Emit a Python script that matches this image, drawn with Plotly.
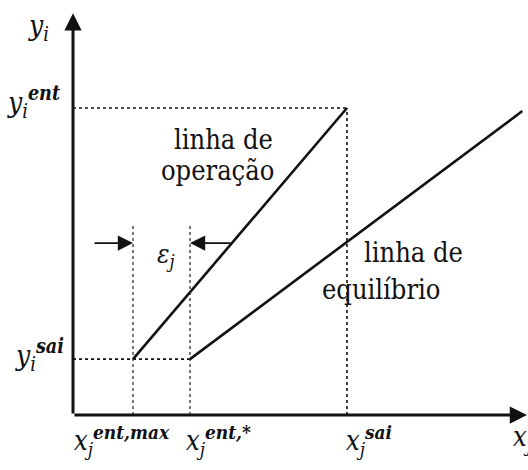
import plotly.graph_objects as go

# Compositions on the diagram (normalised so that x_sai = 1 and y_ent = 1)
x_ent_max = 0.219
x_ent_star = 0.427
x_sai = 1.0
y_sai = 0.182
y_ent = 1.0

# Operating line: from (x_ent_max, y_sai) to (x_sai, y_ent)
op_x = [x_ent_max, x_sai]
op_y = [y_sai, y_ent]

# Equilibrium line: starts at (x_ent_star, y_sai)
eq_x = [x_ent_star, 1.64]
eq_y = [y_sai, 0.99]

# Axis extents and the ε gap marker
x_axis_end = 1.657
y_axis_end = 1.309
guide_top = 0.625
eps_y = 0.560
eps_tail_left = 0.073
eps_tail_right = 0.580

SERIF = "DejaVu Serif Condensed, DejaVu Serif"
INK = "#111111"

fig = go.Figure()


def seg(xs, ys, width, dash="solid", color=INK):
    fig.add_trace(go.Scatter(x=xs, y=ys, mode="lines", hoverinfo="skip",
                             line=dict(color=color, width=width, dash=dash),
                             showlegend=False))


# dotted guide lines
seg([0, x_sai], [y_ent, y_ent], 1.6, "dot")
seg([x_sai, x_sai], [0, y_ent], 1.6, "dot")
seg([0, x_ent_star], [y_sai, y_sai], 1.6, "dot")
seg([x_ent_max, x_ent_max], [0, guide_top], 1.3, "dot", "#333333")
seg([x_ent_star, x_ent_star], [0, guide_top], 1.3, "dot", "#333333")

# operating and equilibrium lines
seg(op_x, op_y, 2.6)
seg(eq_x, eq_y, 2.6)

annotations = []


def arrow(x0, y0, x1, y1, width, size):
    annotations.append(dict(x=x1, y=y1, ax=x0, ay=y0, xref="x", yref="y",
                            axref="x", ayref="y", text="", showarrow=True,
                            arrowhead=2, arrowwidth=width, arrowsize=size,
                            arrowcolor=INK, standoff=0))


# axes
arrow(0, 0, x_axis_end, 0, 3, 1.15)
arrow(0, 0, 0, y_axis_end, 3, 1.15)
# ε gap arrows
arrow(eps_tail_left, eps_y, x_ent_max, eps_y, 1.6, 1.9)
arrow(eps_tail_right, eps_y, x_ent_star, eps_y, 1.6, 1.9)


def label(text, x, y, size=26, xanchor="center", yanchor="middle",
          xshift=0, yshift=0):
    annotations.append(dict(text=text, x=x, y=y, xref="x", yref="y",
                            showarrow=False, xanchor=xanchor, yanchor=yanchor,
                            xshift=xshift, yshift=yshift,
                            font=dict(family=SERIF, size=size, color=INK)))


# line captions
label("linha de", 0.551, 0.899, 27)
label("operação", 0.529, 0.795, 27)
label("linha de", 1.241, 0.528, 27)
label("equilíbrio", 1.124, 0.410, 27)
label("<i>ε<sub>j</sub></i>", 0.339, 0.518, 26)

# y-axis labels
label("<i>y<sub>i</sub></i>", 0, y_axis_end, 28, "right", "middle",
      -22, -14)
label("<i>y<sub>i</sub><sup><b>ent</b></sup></i>", 0, y_ent, 28,
      "right", "middle", -11, 6)
label("<i>y<sub>i</sub><sup><b>sai</b></sup></i>", 0, y_sai, 28,
      "right", "middle", -7, 4)

# x-axis labels
label("<i>x<sub>j</sub><sup><b>ent,max</b></sup></i>", x_ent_max, 0,
      27, "left", "top", -61, -4)
label("<i>x<sub>j</sub><sup><b>ent,*</b></sup></i>", x_ent_star, 0,
      27, "left", "top", -6, -4)
label("<i>x<sub>j</sub><sup><b>sai</b></sup></i>", x_sai, 0, 27,
      "left", "top", -3, -4)
label("<i>x<sub>j</sub></i>", x_axis_end, 0, 27, "left", "top",
      -16, -4)

fig.update_layout(
    width=528, height=470,
    margin=dict(l=0, r=0, t=0, b=0),
    paper_bgcolor="white", plot_bgcolor="white",
    font=dict(family=SERIF),
    xaxis=dict(range=[-73 / 274, 455 / 274], visible=False, fixedrange=True),
    yaxis=dict(range=[-55 / 307, 415 / 307], visible=False, fixedrange=True),
    annotations=annotations,
    showlegend=False,
)

fig.write_html("out.html")
